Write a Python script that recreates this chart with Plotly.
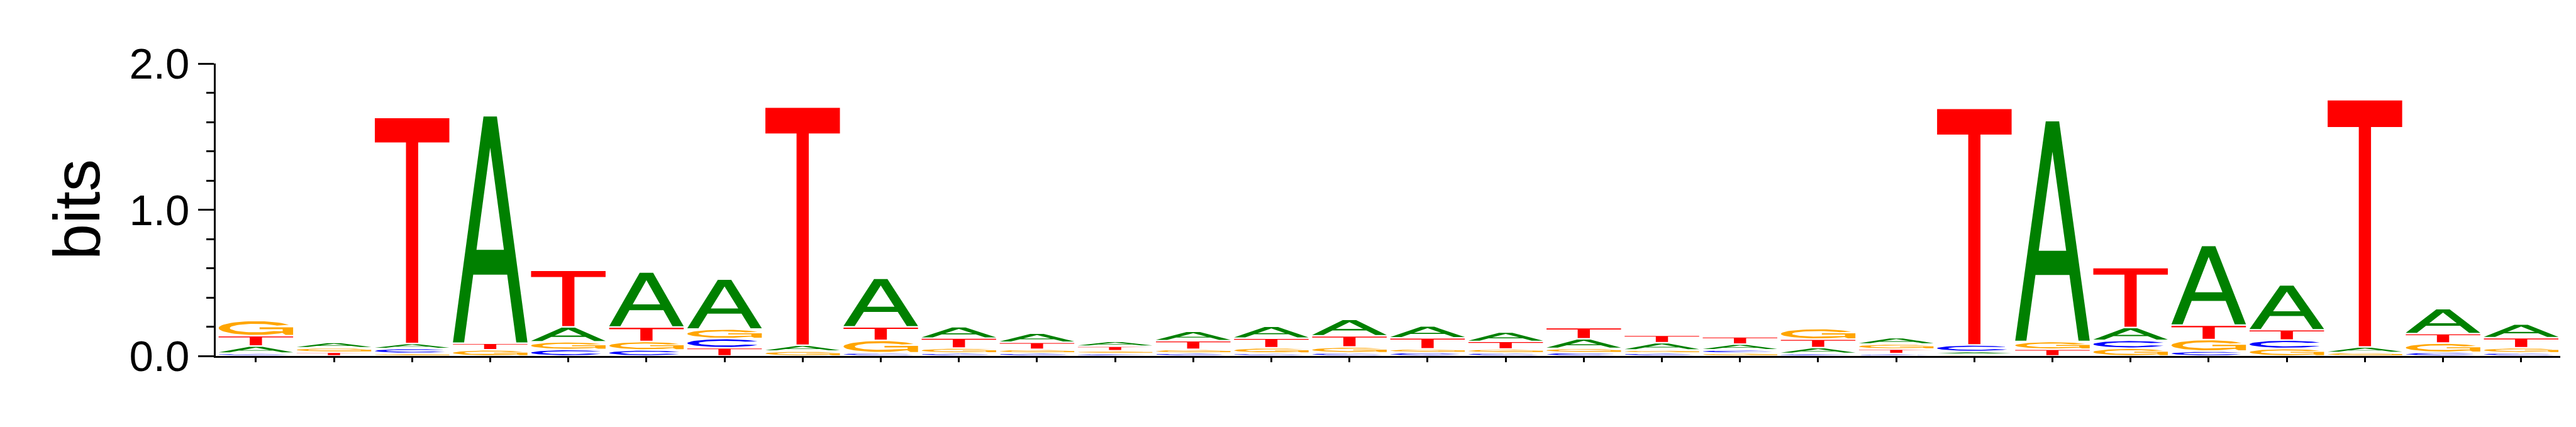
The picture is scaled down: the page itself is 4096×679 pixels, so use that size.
import numpy as np
import plotly.graph_objects as go

# ---------------- data (information content, bits) ----------------
positions = list(range(1, 31))
A_bits = [0.048, 0.036, 0.034, 1.556, 0.102, 0.376, 0.342, 0.040, 0.332, 0.078,
          0.062, 0.033, 0.065, 0.082, 0.112, 0.081, 0.064, 0.065, 0.049, 0.039,
          0.040, 0.043, 0.018, 1.511, 0.088, 0.545, 0.307, 0.037, 0.171, 0.093]
C_bits = [0.0196, 0.0, 0.033, 0.0, 0.044, 0.041, 0.063, 0.0, 0.022, 0.020,
          0.020, 0.017, 0.020, 0.0196, 0.022, 0.024, 0.022, 0.023, 0.020, 0.022,
          0.017, 0.016, 0.045, 0.0, 0.054, 0.033, 0.058, 0.0, 0.025, 0.022]
G_bits = [0.104, 0.030, 0.018, 0.042, 0.053, 0.058, 0.065, 0.033, 0.085, 0.034,
          0.025, 0.019, 0.025, 0.036, 0.039, 0.025, 0.025, 0.029, 0.021, 0.020,
          0.0725, 0.035, 0.012, 0.0525, 0.053, 0.079, 0.051, 0.024, 0.063, 0.034]
T_bits = [0.071, 0.026, 1.546, 0.045, 0.387, 0.099, 0.056, 1.629, 0.092, 0.068,
          0.0485, 0.031, 0.059, 0.066, 0.077, 0.075, 0.0525, 0.076, 0.052, 0.050,
          0.058, 0.031, 1.618, 0.046, 0.409, 0.099, 0.070, 1.692, 0.065, 0.069]
y_tick_values = [0, 1, 2]
y_tick_labels = ["0.0", "1.0", "2.0"]
y_title = "bits"

COLORS = {"A": "#008000", "C": "#0000ff", "G": "#ffa500", "T": "#ff0000"}
HALF_W = 0.477      # half width of a letter (x units)
PAD = 0.0053        # vertical gap half-size between stacked letters (bits)


# ---------------- glyph outlines in a unit box ----------------
def arc(rx, ry, a0, a1, n=48):
    t = np.radians(np.linspace(a0, a1, n))
    return list(zip(0.5 + rx * np.cos(t), 0.5 + ry * np.sin(t)))


def glyph_T():
    bt = 0.108
    return [[(0, 1), (1, 1), (1, 1 - bt), (0.582, 1 - bt), (0.582, 0),
             (0.418, 0), (0.418, 1 - bt), (0, 1 - bt)]]


def glyph_A():
    return [[(0, 0), (0.15, 0), (0.272, 0.30), (0.728, 0.30), (0.85, 0),
             (1, 0), (0.59, 1), (0.41, 1)]]


A_HOLE = [(0.316, 0.41), (0.5, 0.862), (0.684, 0.41)]


def glyph_C():
    outer = arc(0.5, 0.5, 28, 332)
    inner = arc(0.35, 0.31, 322, 38)
    return [outer + inner]


def glyph_G():
    outer = arc(0.5, 0.5, 28, 315)
    mid = [(0.9, 0.0), (1.0, 0.0), (1.0, 0.56), (0.55, 0.56), (0.55, 0.42),
           (0.86, 0.42), (0.86, 0.27)]
    inner = arc(0.35, 0.31, 313, 36)
    return [outer + mid + inner]


GLYPHS = {"A": glyph_A(), "C": glyph_C(), "G": glyph_G(), "T": glyph_T()}

# ---------------- build stacks ----------------
table = {"A": A_bits, "C": C_bits, "G": G_bits, "T": T_bits}
paths = {k: ([], []) for k in "ACGT"}
holes = ([], [])

for i, pos in enumerate(positions):
    letters = [(table[k][i], k) for k in "ACGT" if table[k][i] > 0]
    letters.sort(key=lambda t: t[0])
    y0 = 0.0
    for h, k in letters:
        gb = y0 + PAD
        gh = max(h - 2 * PAD, 0.002)
        x0 = pos - HALF_W
        w = 2 * HALF_W
        xs, ys = paths[k]
        for poly in GLYPHS[k]:
            for (u, v) in poly:
                xs.append(x0 + u * w)
                ys.append(gb + v * gh)
            xs.append(x0 + poly[0][0] * w)
            ys.append(gb + poly[0][1] * gh)
            xs.append(None)
            ys.append(None)
        if k == "A":
            for (u, v) in A_HOLE + [A_HOLE[0]]:
                holes[0].append(x0 + u * w)
                holes[1].append(gb + v * gh)
            holes[0].append(None)
            holes[1].append(None)
        y0 += h

fig = go.Figure()
for k in "ACGT":
    xs, ys = paths[k]
    fig.add_trace(go.Scatter(
        x=xs, y=ys, mode="lines", fill="toself", fillcolor=COLORS[k],
        line=dict(width=0, color=COLORS[k]), hoverinfo="skip", showlegend=False,
        name=k))
fig.add_trace(go.Scatter(
    x=holes[0], y=holes[1], mode="lines", fill="toself", fillcolor="white",
    line=dict(width=0, color="white"), hoverinfo="skip", showlegend=False))

FONT = "Liberation Sans, Arial, Helvetica, sans-serif"
fig.update_layout(
    width=4096, height=679,
    margin=dict(l=335, r=33, t=93, b=121, pad=0),
    paper_bgcolor="white", plot_bgcolor="white",
    showlegend=False,
    xaxis=dict(range=[0.486, 30.501], showgrid=False, zeroline=False,
               showline=True, linecolor="black", linewidth=2.6,
               ticks="outside", tickvals=positions, ticklen=7, tickwidth=2.6,
               tickcolor="black", showticklabels=False, fixedrange=True),
    yaxis=dict(range=[0, 2], showgrid=False, zeroline=False,
               showline=True, linecolor="black", linewidth=2.6,
               ticks="outside", tickvals=y_tick_values, ticktext=y_tick_labels,
               ticklen=25, tickwidth=2.6, tickcolor="black",
               tickfont=dict(family=FONT, size=69, color="black"),
               minor=dict(ticks="outside", dtick=0.2, tick0=0, ticklen=12.4,
                          tickwidth=2.6, tickcolor="black", showgrid=False),
               fixedrange=True),
    annotations=[dict(text=y_title, xref="paper", yref="paper",
                      x=-0.0591, y=0.5, xanchor="center", yanchor="middle",
                      textangle=-90, showarrow=False,
                      font=dict(family=FONT, size=103, color="black"))],
)

fig.write_html("out.html")
